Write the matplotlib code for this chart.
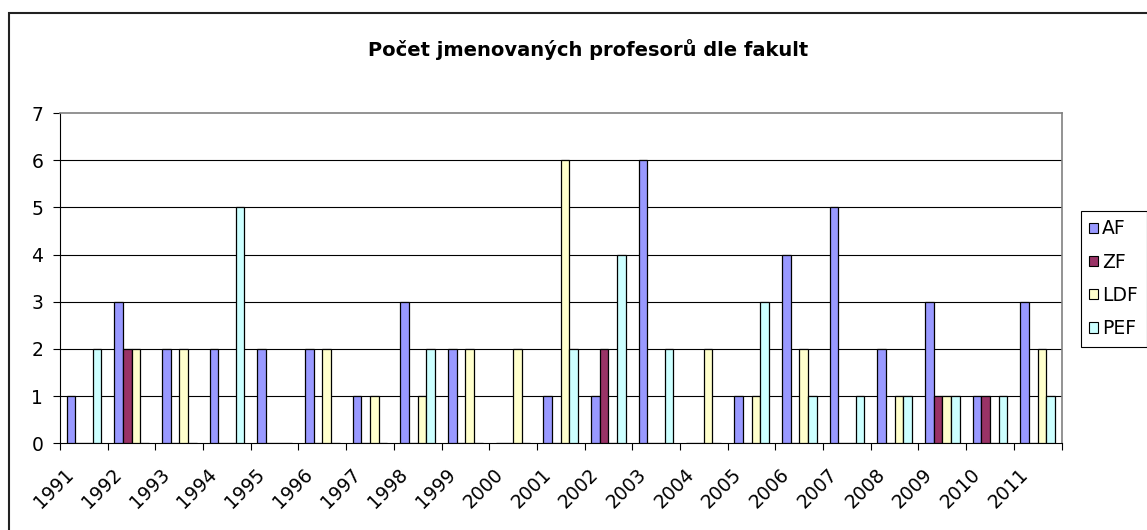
# ===================================== Importing libraries =====================================
import numpy as np
import matplotlib
matplotlib.use("Agg")
import matplotlib.pyplot as plt
import matplotlib.transforms as mtransforms
from matplotlib.patches import Patch, Rectangle

# ===================================== Data ====================================================
years = ["1991", "1992", "1993", "1994", "1995", "1996", "1997", "1998", "1999", "2000", "2001",
         "2002", "2003", "2004", "2005", "2006", "2007", "2008", "2009", "2010", "2011"]
series_names = ["AF", "ZF", "LDF", "PEF"]
af = [1, 3, 2, 2, 2, 2, 1, 3, 2, 0, 1, 1, 6, 0, 1, 4, 5, 2, 3, 1, 3]
zf = [0, 2, 0, 0, 0, 0, 0, 0, 0, 0, 0, 2, 0, 0, 0, 0, 0, 0, 1, 1, 0]
ldf = [0, 2, 2, 0, 0, 2, 1, 1, 2, 2, 6, 0, 0, 2, 1, 2, 0, 1, 1, 0, 2]
pef = [2, 0, 0, 5, 0, 0, 0, 2, 0, 0, 2, 4, 2, 0, 3, 1, 1, 1, 1, 1, 1]
colors = ["#9999FF", "#993366", "#FFFFCC", "#CCFFFF"]

# ===================================== Figure ==================================================
# the original text is drawn quite wide, DejaVu Sans gets closest
plt.rcParams['font.family'] = ['DejaVu Sans']
fs = 13.5
fig = plt.figure(figsize=(11.47, 5.30), dpi=100)
fig.patch.set_facecolor("white")

# outer chart border (runs off the right and bottom edge)
fig.patches.append(Rectangle((9 / 1147, -0.1), 1.2, 1 - 13 / 530 + 0.1, transform=fig.transFigure,
                             fill=False, edgecolor="#222222", linewidth=1.5))

ax = fig.add_axes([60 / 1147, (530 - 443.3) / 530, 1001.5 / 1147, 330.3 / 530])

x = np.arange(len(years))
w = 1 / 5.5
all_series = [af, zf, ldf, pef]
for i, vals in enumerate(all_series):
    ax.bar(x + (i - 1.5) * w, vals, width=w, color=colors[i], edgecolor="black",
           linewidth=0.9, zorder=3)

ax.set_xlim(-0.5, len(years) - 0.5)
ax.set_ylim(0, 7)
ax.set_yticks(range(0, 8))
ax.tick_params(axis='y', direction='out', length=5, width=0.8, pad=7, labelsize=fs)
for yv in range(1, 7):
    ax.axhline(yv, color="black", linewidth=0.8, zorder=1)

# category boundaries as ticks, labels in the middle
ax.set_xticks(np.arange(-0.5, len(years)), minor=True)
ax.set_xticks(x)
ax.set_xticklabels(years)
ax.tick_params(axis='x', which='minor', direction='out', length=5, width=0.8)
ax.tick_params(axis='x', which='major', length=0, pad=15.5, labelsize=fs)
shift = mtransforms.ScaledTranslation(-6 / 100, 0, fig.dpi_scale_trans)
for lab in ax.get_xticklabels():
    lab.set_rotation(45)
    lab.set_ha('right')
    lab.set_va('top')
    lab.set_transform(lab.get_transform() + shift)

for side in ['top', 'right']:
    ax.spines[side].set_color("#808080")
    ax.spines[side].set_linewidth(1.2)
for side in ['left', 'bottom']:
    ax.spines[side].set_color("black")
    ax.spines[side].set_linewidth(0.8)

fig.text(588 / 1147, 1 - 50 / 530, "Počet jmenovaných profesorů dle fakult", ha='center', va='center',
         fontsize=14, fontweight='bold')

handles = [Patch(facecolor=c, edgecolor="black", linewidth=0.8) for c in colors]
leg = fig.legend(handles, series_names, loc='upper left', bbox_to_anchor=(1081 / 1147, 1 - 211 / 530),
                 fontsize=fs, frameon=True, fancybox=False, framealpha=1, edgecolor="black",
                 handlelength=0.48, handleheight=0.48, handletextpad=0.2, labelspacing=0.76,
                 borderpad=0.45, borderaxespad=0)
leg.get_frame().set_linewidth(0.8)

fig.savefig("out.png", dpi=100)
